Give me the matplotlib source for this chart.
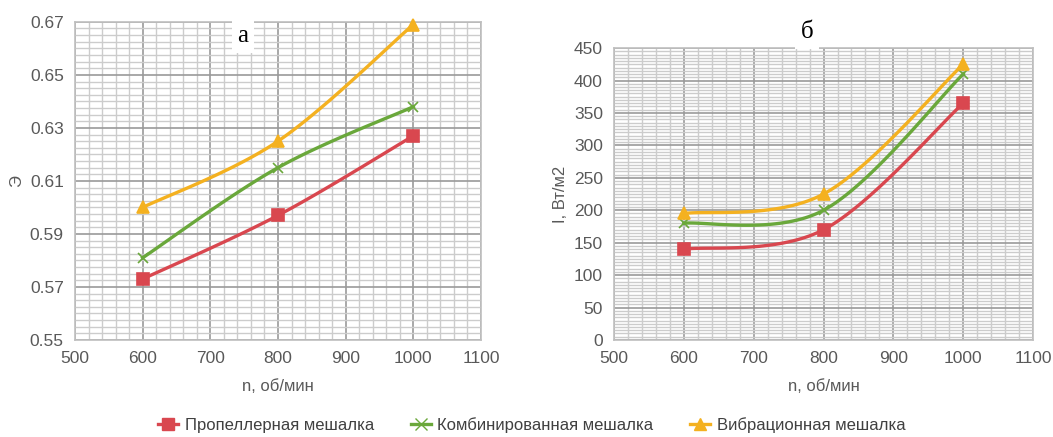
import matplotlib
matplotlib.use("Agg")
import matplotlib.pyplot as plt
import numpy as np
from matplotlib.ticker import MultipleLocator

plt.rcParams['font.family'] = ['Liberation Sans', 'DejaVu Sans']

rpm = [600, 800, 1000]
names = ["Пропеллерная мешалка", "Комбинированная мешалка", "Вибрационная мешалка"]
eff_prop = [0.573, 0.597, 0.627]
eff_comb = [0.581, 0.615, 0.638]
eff_vibr = [0.600, 0.625, 0.669]
int_prop = [140, 170, 365]
int_comb = [180, 200, 410]
int_vibr = [195, 225, 425]

colors = ["#d9474f", "#6aa83b", "#f4b120"]
markers = ["s", "x", "^"]


def smooth(x, y, n=40):
    # Catmull-Rom style smoothing like Excel's smoothed line
    x = np.asarray(x, float)
    y = np.asarray(y, float)
    px = np.concatenate([[x[0]], x, [x[-1]]])
    py = np.concatenate([[y[0]], y, [y[-1]]])
    xs, ys = [], []
    for i in range(1, len(px) - 2):
        p0, p1, p2, p3 = (np.array([px[j], py[j]]) for j in range(i - 1, i + 3))
        c1 = p1 + (p2 - p0) / 6
        c2 = p2 - (p3 - p1) / 6
        t = np.linspace(0, 1, n)[:, None]
        b = (1 - t) ** 3 * p1 + 3 * (1 - t) ** 2 * t * c1 + 3 * (1 - t) * t ** 2 * c2 + t ** 3 * p2
        xs.extend(b[:, 0])
        ys.extend(b[:, 1])
    return xs, ys


def setup(ax, ymin, ymax, ymaj, ymin_step, yoff=0.0):
    ax.set_xlim(500, 1100)
    ax.set_ylim(ymin, ymax)
    ax.xaxis.set_major_locator(MultipleLocator(100))
    ax.xaxis.set_minor_locator(MultipleLocator(20))
    ax.yaxis.set_major_locator(MultipleLocator(ymaj, offset=yoff))
    ax.yaxis.set_minor_locator(MultipleLocator(ymin_step))
    ax.grid(which="major", color="#9a9a9a", lw=1.2)
    ax.grid(which="minor", color="#cccccc", lw=1.0)
    ax.set_axisbelow(True)
    for s in ax.spines.values():
        s.set_color("#bfbfbf")
        s.set_linewidth(1.2)
    ax.tick_params(which="both", length=0, colors="#595959", labelsize=12.5, pad=8)
    ax.set_xlabel("n, об/мин", color="#595959", fontsize=12, labelpad=9)


fig = plt.figure(figsize=(10.53, 4.37), dpi=100)
ax1 = fig.add_axes([0.0712, 0.222, 0.3856, 0.728])
ax2 = fig.add_axes([0.5831, 0.222, 0.398, 0.668])

setup(ax1, 0.55, 0.67, 0.02, 0.0025, yoff=0.01)
ax1.yaxis.set_major_formatter(plt.FuncFormatter(lambda v, p: f"{v:.2f}"))
ax1.set_ylabel("Э", color="#595959", fontsize=12)
setup(ax2, 0, 450, 50, 5)
ax2.set_ylabel("I, Вт/м2", color="#595959", fontsize=12)

for ax, series in ((ax1, [eff_prop, eff_comb, eff_vibr]), (ax2, [int_prop, int_comb, int_vibr])):
    for vals, c, m, name in zip(series, colors, markers, names):
        sx, sy = smooth(rpm, vals)
        ax.plot(sx, sy, color=c, lw=2.4, zorder=3)
        ax.plot(rpm, vals, ls="none", marker=m, color=c, ms=9 if m != "x" else 7,
                mew=1.2, zorder=4, clip_on=False)

ax1.text(0.414, 0.955, "а", transform=ax1.transAxes, fontsize=18, family="Liberation Serif",
         ha="center", va="center", bbox=dict(fc="white", ec="none", pad=4), zorder=5)
ax2.text(0.46, 1.055, "б", transform=ax2.transAxes, fontsize=18, family="Liberation Serif",
         ha="center", va="center", bbox=dict(fc="white", ec="none", pad=4), zorder=5)

handles = [plt.Line2D([], [], color=c, marker=m, lw=2.4, ms=8) for c, m in zip(colors, markers)]
fig.legend(handles, names, loc="center", bbox_to_anchor=(0.505, 0.027), ncol=3, frameon=False,
           fontsize=12, handlelength=1.2, handletextpad=0.4, columnspacing=2.2, labelcolor="#404040")

fig.savefig("out.png", dpi=100)
